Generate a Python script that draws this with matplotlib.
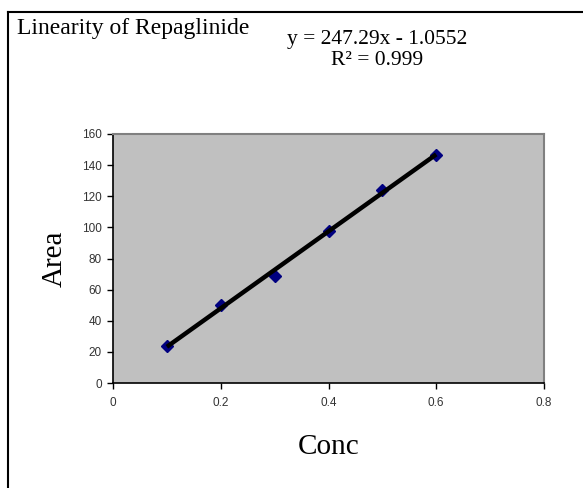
import numpy as np
import matplotlib.pyplot as plt
from matplotlib.lines import Line2D

# данные линейности
conc = [0.1, 0.2, 0.3, 0.4, 0.5, 0.6]
area = [23.5, 50, 69, 97.5, 124, 146.5]
x_ticks = [0, 0.2, 0.4, 0.6, 0.8]
y_ticks = [0, 20, 40, 60, 80, 100, 120, 140, 160]
title = 'Linearity of Repaglinide'
eq_text = 'y = 247.29x - 1.0552'
r2_text = 'R² = 0.999'

serif = 'Liberation Serif'
W, H = 583, 488

fig = plt.figure(figsize=(W / 100, H / 100), dpi=100)
fig.patch.set_facecolor('white')

# рамка диаграммы (видны только верх и левый край)
fig.add_artist(Line2D([8 / W, 1], [1 - 12 / H, 1 - 12 / H], color='black', lw=1.5))
fig.add_artist(Line2D([8 / W, 8 / W], [0, 1 - 12 / H], color='black', lw=1.5))

ax = fig.add_axes([113 / W, 105 / H, (544 - 113) / W, (354 - 105) / H])
ax.set_facecolor('#c0c0c0')

ax.plot(conc, area, linestyle='none', marker='D', markersize=6,
        color='#000080', zorder=3)

# линия тренда
k, b = np.polyfit(conc, area, 1)
xs = np.array([min(conc), max(conc)])
ax.plot(xs, k * xs + b, color='black', lw=3.2, zorder=4, solid_capstyle='butt')

ax.set_xlim(0, 0.8)
ax.set_ylim(0, 160)
ax.set_xticks(x_ticks)
ax.set_yticks(y_ticks)
ax.set_xticklabels([f'{v:g}' for v in x_ticks])
ax.set_yticklabels([str(v) for v in y_ticks])
ax.tick_params(direction='out', length=4, width=1, labelsize=8.5)
ax.tick_params(axis='x', pad=6)
ax.tick_params(axis='y', pad=4)
for lab in ax.get_xticklabels() + ax.get_yticklabels():
    lab.set_family('Liberation Sans')
    lab.set_color('#333333')

for s in ['top', 'right']:
    ax.spines[s].set_color('#808080')
    ax.spines[s].set_linewidth(1.5)
for s in ['left', 'bottom']:
    ax.spines[s].set_color('black')
    ax.spines[s].set_linewidth(1.2)

ax.set_xlabel('Conc', family=serif, fontsize=21, labelpad=18)
ax.set_ylabel('Area', family=serif, fontsize=21, labelpad=10)

fig.text(17 / W, 1 - 18 / H, title, family=serif, fontsize=17, va='top', ha='left')
fig.text(377 / W, 1 - 30 / H, eq_text, family=serif, fontsize=15.5, va='top', ha='center')
fig.text(377 / W, 1 - 51 / H, r2_text, family=serif, fontsize=15.5, va='top', ha='center')

fig.savefig('out.png', dpi=100)
